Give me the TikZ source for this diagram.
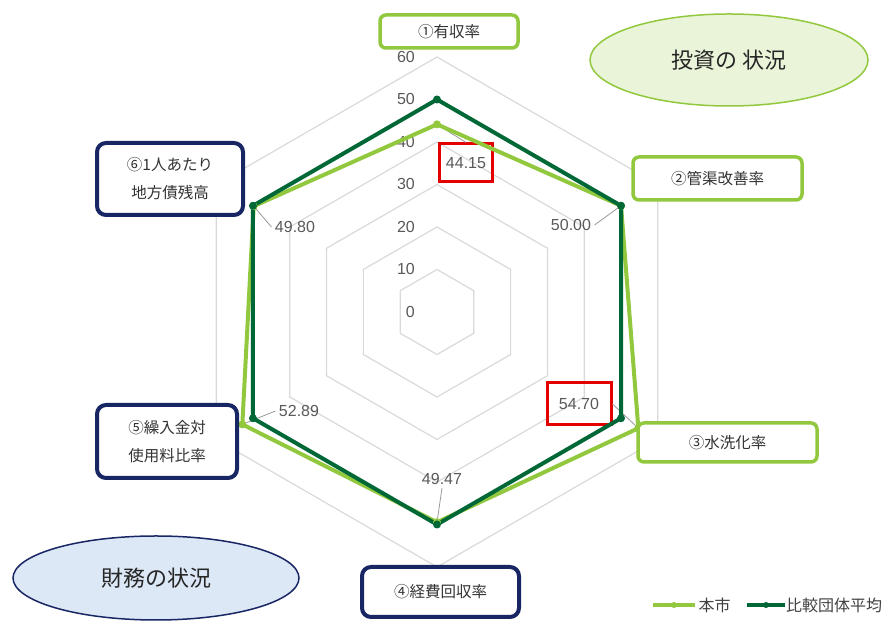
\documentclass[tikz,border=0pt]{standalone}
\usepackage{fontspec}
\setmainfont{Liberation Sans}
\newfontfamily\jp{Noto Sans CJK JP}
\usetikzlibrary{shapes.geometric}
\definecolor{mygreen}{RGB}{146,200,62}
\definecolor{mydark}{RGB}{0,104,55}
\definecolor{mynavy}{RGB}{24,38,100}
\definecolor{mygray}{RGB}{89,89,89}
\definecolor{mygrid}{RGB}{217,217,217}
\definecolor{myice}{RGB}{221,232,246}

\begin{document}
\begin{tikzpicture}
	[x=1pt,y=1pt, every node/.style={text=mygray,font=\fontsize{16}{19}\selectfont},
	gbox/.style={draw=mygreen,line width=3.5pt,rounded corners=6pt,fill=white,align=center,
		font=\jp\fontsize{15.5}{28}\selectfont,text=black!80},
	nbox/.style={gbox,draw=mynavy,line width=4pt,rounded corners=9pt},
	redbox/.style={draw=red!90!black,line width=3pt,inner sep=0pt},
	dot/.style={circle,inner sep=0pt,minimum size=8pt},
	oval/.style={ellipse,line width=1.5pt,inner sep=0pt,text=black!85,font=\jp\fontsize{22}{25}\selectfont}]
	\useasboundingbox (0,0) rectangle (887,623);
	\coordinate (O) at (437,311);
	
	\foreach \r in {1,...,6}
	\draw[mygrid,line width=1.2pt] ([shift={(90:{42.5*\r})}]O) -- ([shift={(30:{42.5*\r})}]O) -- ([shift={(-30:{42.5*\r})}]O)
	-- ([shift={(-90:{42.5*\r})}]O) -- ([shift={(-150:{42.5*\r})}]O) -- ([shift={(150:{42.5*\r})}]O) -- cycle;
	\foreach \k in {0,10,...,60}
	\node[anchor=east,inner sep=0pt] (n\k) at (415,{311+4.25*\k}) {\k};
	
	\foreach \n/\a/\v in {1/90/44.15,2/30/50.00,3/-30/54.70,4/-90/49.47,5/-150/52.89,6/150/49.80}
	{
		\coordinate (p\n) at ([shift={(\a:{4.25*\v})}]O);
		\coordinate (q\n) at ([shift={(\a:212.5)}]O);
	}
	
	\node[redbox,minimum width=53pt,minimum height=38pt] (v1) at (466,460) {44.15};
	\node (v2) at (571,398) {50.00};
	\node[redbox,minimum width=64pt,minimum height=42pt] (v3) at (579,219) {54.70};
	\node (v4) at (442,144) {49.47};
	\node (v5) at (299,212) {52.89};
	\node (v6) at (295,396) {49.80};
	\foreach \a/\b in {p1/v1.north,p2/v2.east,p3/v3.east,p4/v4.south,p5/v5.west,p6/v6.west}
	\draw[black!40,line width=0.8pt] (\a) -- (\b);
	
	\draw[mygreen,line width=4pt,line join=round] (p1) \foreach \n in {2,...,6}{-- (p\n)} -- cycle;
	\draw[mydark,line width=4pt,line join=round] (q1) \foreach \n in {2,...,6}{-- (q\n)} -- cycle;
	\foreach \n in {1,...,6}
	{
		\node[dot,fill=mygreen] at (p\n) {};
		\node[dot,fill=mydark] at (q\n) {};
	}
	
	\node[gbox,minimum width=138pt,minimum height=33pt] (k1) at (449,591.5) {①有収率};
	\node[gbox,minimum width=169pt,minimum height=43pt] (k2) at (717.5,444.5) {②管渠改善率};
	\node[gbox,minimum width=179pt,minimum height=39pt] (k3) at (727.5,180.5) {③水洗化率};
	\node[nbox,minimum width=157pt,minimum height=50pt] (k4) at (440.5,31) {④経費回収率};
	\node[nbox,minimum width=140pt,minimum height=73pt] (k5) at (167,181.5) {⑤繰入金対\\使用料比率};
	\node[nbox,minimum width=146pt,minimum height=72pt] (k6) at (170,444) {⑥1人あたり\\地方債残高};
	
	\node[oval,draw=mygreen,fill=mygreen!20,minimum width=278pt,minimum height=92pt] (e1) at (729,563) {投資の 状況};
	\node[oval,draw=mynavy,fill=myice,minimum width=286pt,minimum height=84pt] (e2) at (156,45) {財務の状況};
	
	\node[anchor=west,font=\jp\fontsize{16}{19}\selectfont,text=black!75] (l1) at (695,18) {本市};
	\node[anchor=west,font=\jp\fontsize{16}{19}\selectfont,text=black!75,inner sep=1pt] (l2) at (785,18) {比較団体平均};
	\draw[mygreen,line width=4pt] (l1.west) -- ++(-42,0) node[dot,fill=mygreen,midway,minimum size=6pt] {};
	\draw[mydark,line width=4pt] (l2.west) -- ++(-38,0) node[dot,fill=mydark,midway,minimum size=6pt] {};
\end{tikzpicture}
\end{document}
